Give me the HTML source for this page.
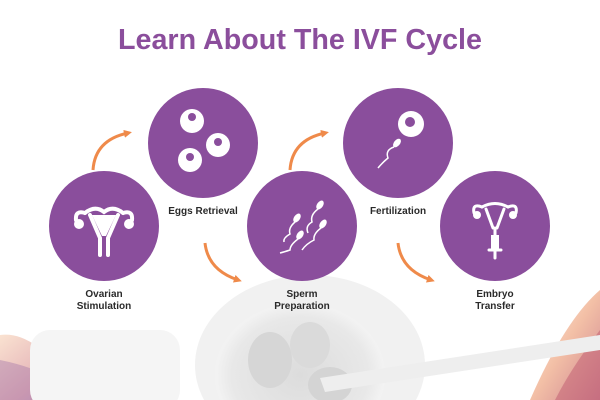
<!DOCTYPE html>
<html><head><meta charset="utf-8"><style>
html,body{margin:0;padding:0;background:#fff;width:600px;height:400px;overflow:hidden;}
svg{display:block;}
text{font-family:"Liberation Sans",sans-serif;font-weight:bold;}
</style></head><body>
<svg width="600" height="400" viewBox="0 0 600 400" xmlns="http://www.w3.org/2000/svg">
<defs>
<linearGradient id="gl" x1="0" y1="0" x2="1" y2="1">
<stop offset="0" stop-color="#f8d6bd"/><stop offset="0.6" stop-color="#d89098"/><stop offset="1" stop-color="#9a6aac"/></linearGradient>
<linearGradient id="gr" x1="0" y1="0" x2="1" y2="1">
<stop offset="0" stop-color="#fdeede"/><stop offset="0.5" stop-color="#f0b090"/><stop offset="1" stop-color="#c06476"/></linearGradient>
<radialGradient id="emb" cx="0.5" cy="0.5" r="0.5">
<stop offset="0" stop-color="#dcdcdc"/><stop offset="0.8" stop-color="#e8e8e8"/><stop offset="1" stop-color="#f3f3f3"/></radialGradient>
<marker id="ah" markerWidth="8" markerHeight="8" refX="4" refY="4" orient="auto" markerUnits="userSpaceOnUse"><path d="M0,0 L8,4 L0,8 Z" fill="#ef8a4a"/></marker>
</defs>
<path d="M0,335 Q40,330 80,400 L0,400 Z" fill="url(#gl)" opacity="0.7"/>
<path d="M0,360 Q50,370 90,400 L0,400Z" fill="#a070a8" opacity="0.4"/>
<path d="M600,290 Q565,320 530,400 L600,400Z" fill="url(#gr)" opacity="0.8"/>
<path d="M600,330 Q570,370 555,400 L600,400Z" fill="#c05a70" opacity="0.5"/>
<rect x="30" y="330" width="150" height="80" rx="20" fill="#f5f5f5"/>
<ellipse cx="310" cy="365" rx="115" ry="90" fill="#f1f1f1"/>
<ellipse cx="300" cy="375" rx="85" ry="72" fill="url(#emb)"/>
<ellipse cx="270" cy="360" rx="22" ry="28" fill="#d6d6d6"/>
<ellipse cx="310" cy="345" rx="20" ry="23" fill="#dadada"/>
<ellipse cx="330" cy="385" rx="22" ry="18" fill="#d4d4d4"/>
<path d="M320,378 L600,335 L600,350 L325,392 Z" fill="#eeeeee"/>
<text x="300" y="49" font-size="29" fill="#8b4e9c" text-anchor="middle" textLength="364" lengthAdjust="spacingAndGlyphs">Learn About The IVF Cycle</text>
<g stroke="#ef8a4a" stroke-width="3" fill="none">
<path d="M93,170 Q95,140 128,133" marker-end="url(#ah)"/>
<path d="M290,170 Q292,140 325,133" marker-end="url(#ah)"/>
<path d="M205,243 Q208,270 238,280" marker-end="url(#ah)"/>
<path d="M398,243 Q401,270 431,280" marker-end="url(#ah)"/>
</g>
<g fill="#8a4e9c">
<circle cx="104" cy="226" r="55"/>
<circle cx="203" cy="143" r="55"/>
<circle cx="302" cy="226" r="55"/>
<circle cx="398" cy="143" r="55"/>
<circle cx="495" cy="226" r="55"/>
</g>
<g fill="#fff"><circle cx="192" cy="121" r="12"/><circle cx="218" cy="145" r="12"/><circle cx="190" cy="160" r="12"/></g>
<g fill="#8a4e9c"><circle cx="192" cy="117" r="4"/><circle cx="218" cy="142" r="4"/><circle cx="190" cy="157" r="4"/></g>
<g fill="none" stroke="#fff" stroke-width="4" stroke-linecap="round">
<path d="M85,213 Q95,205 104,212 Q113,205 123,213"/>
<path d="M85,213 Q75,210 76,220 M123,213 Q133,210 132,220"/>
<path d="M90,215 L100,238 L100,255 M118,215 L108,238 L108,255"/>
</g>
<circle cx="79" cy="224" r="5" fill="#fff"/><circle cx="129" cy="224" r="5" fill="#fff"/>
<path d="M92,215 L116,215 L106,236 L102,236Z" fill="#fff"/>
<g fill="#fff"><ellipse cx="320" cy="205" rx="3" ry="5" transform="rotate(35 320 205)"/><ellipse cx="323" cy="224" rx="3" ry="5" transform="rotate(35 323 224)"/><ellipse cx="297" cy="218" rx="3" ry="5" transform="rotate(35 297 218)"/><ellipse cx="300" cy="235" rx="3" ry="5" transform="rotate(35 300 235)"/></g>
<g fill="none" stroke="#fff" stroke-width="1.5">
<path d="M318,209 Q310,215 312,222 Q305,226 308,233"/>
<path d="M321,228 Q313,234 314,240 Q306,244 302,250"/>
<path d="M295,222 Q288,228 290,234 Q283,238 284,242"/>
<path d="M298,239 Q290,245 290,250 Q284,252 280,253"/>
</g>
<circle cx="411" cy="124" r="13" fill="#fff"/><circle cx="410" cy="122" r="5" fill="#8a4e9c"/>
<ellipse cx="397" cy="143" rx="3" ry="5" fill="#fff" transform="rotate(40 397 143)"/>
<path d="M394,147 Q385,150 388,158 Q382,163 378,168" fill="none" stroke="#fff" stroke-width="1.5"/>
<g fill="none" stroke="#fff" stroke-width="3" stroke-linecap="round">
<path d="M482,207 Q495,200 508,207"/>
<path d="M482,207 Q472,203 474,213 M508,207 Q518,203 516,213"/>
<path d="M486,209 L493,228 M504,209 L497,228"/>
<path d="M495,228 L495,250 M489,250 L501,250 M495,250 L495,258"/>
</g>
<circle cx="477" cy="215" r="4" fill="#fff"/><circle cx="513" cy="215" r="4" fill="#fff"/>
<rect x="491" y="235" width="8" height="14" fill="#fff"/>
<g font-size="10" fill="#2a2a2a" text-anchor="middle">
<text x="203" y="214">Eggs Retrieval</text>
<text x="398" y="214">Fertilization</text>
<text x="104" y="297">Ovarian</text><text x="104" y="309">Stimulation</text>
<text x="302" y="297">Sperm</text><text x="302" y="309">Preparation</text>
<text x="495" y="297">Embryo</text><text x="495" y="309">Transfer</text>
</g>
</svg>
</body></html>
